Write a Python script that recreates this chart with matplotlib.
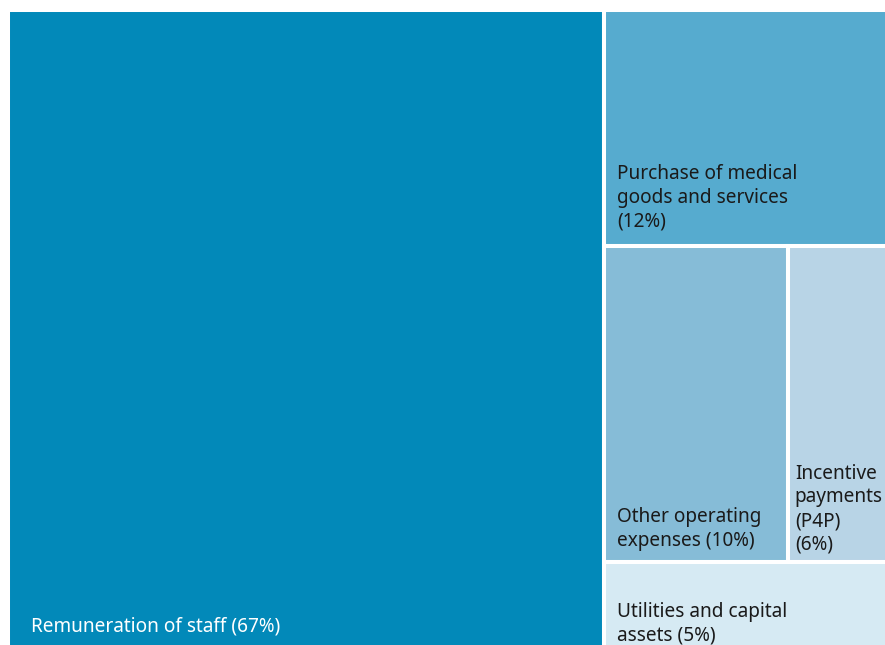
import matplotlib.pyplot as plt
from matplotlib.patches import Rectangle

# spending shares, percent
labels = ["Remuneration of staff (67%)",
          "Purchase of medical\ngoods and services\n(12%)",
          "Other operating\nexpenses (10%)",
          "Incentive\npayments\n(P4P)\n(6%)",
          "Utilities and capital\nassets (5%)"]
shares = [67, 12, 10, 6, 5]
colors = ["#0289b9", "#56abcf", "#86bcd7", "#b8d4e6", "#d6eaf3"]
text_colors = ["white", "#1a1a1a", "#1a1a1a", "#1a1a1a", "#1a1a1a"]
# label offset from the lower-left corner of each box, in points
label_pad = [(16.6, 16.9), (9.5, 10.4), (9.5, 7.7), (5.0, 4.8), (9.5, 10.5)]

W = 100.0       # total width in data units
H = 73.07       # total height, same unit size as x


def layout(vals):
    # big block on the left, the rest stacked in a column:
    # one on top, two side by side in the middle, one at the bottom
    main, top, mid1, mid2, bot = vals
    total = sum(vals)
    x_main = W * main / total
    col_w = W - x_main
    col = top + mid1 + mid2 + bot
    h_top = H * top / col
    h_mid = H * (mid1 + mid2) / col
    h_bot = H * bot / col
    w1 = col_w * mid1 / (mid1 + mid2)
    return [
        (0, 0, x_main, H),
        (x_main, 0, col_w, h_top),
        (x_main, h_top, w1, h_mid),
        (x_main + w1, h_top, col_w - w1, h_mid),
        (x_main, h_top + h_mid, col_w, h_bot),
    ]


fig = plt.figure(figsize=(8.85, 6.45), dpi=100)
# axes runs a bit past the right and bottom edges of the figure
ax = fig.add_axes([8 / 885, (645 - 660) / 645, 890 / 885, 650 / 645])
ax.set_xlim(0, W)
ax.set_ylim(H, 0)
ax.axis("off")

for (x, y, w, h), lab, c, tc, pad in zip(layout(shares), labels, colors,
                                         text_colors, label_pad):
    ax.add_patch(Rectangle((x, y), w, h, facecolor=c, edgecolor="white", linewidth=2.9))
    ax.annotate(lab, xy=(x, y + h), xytext=pad, textcoords="offset points",
                ha="left", va="bottom", fontsize=13.7, color=tc,
                family="Noto Sans", linespacing=1.25, annotation_clip=False)

fig.savefig("out.png", dpi=100)
